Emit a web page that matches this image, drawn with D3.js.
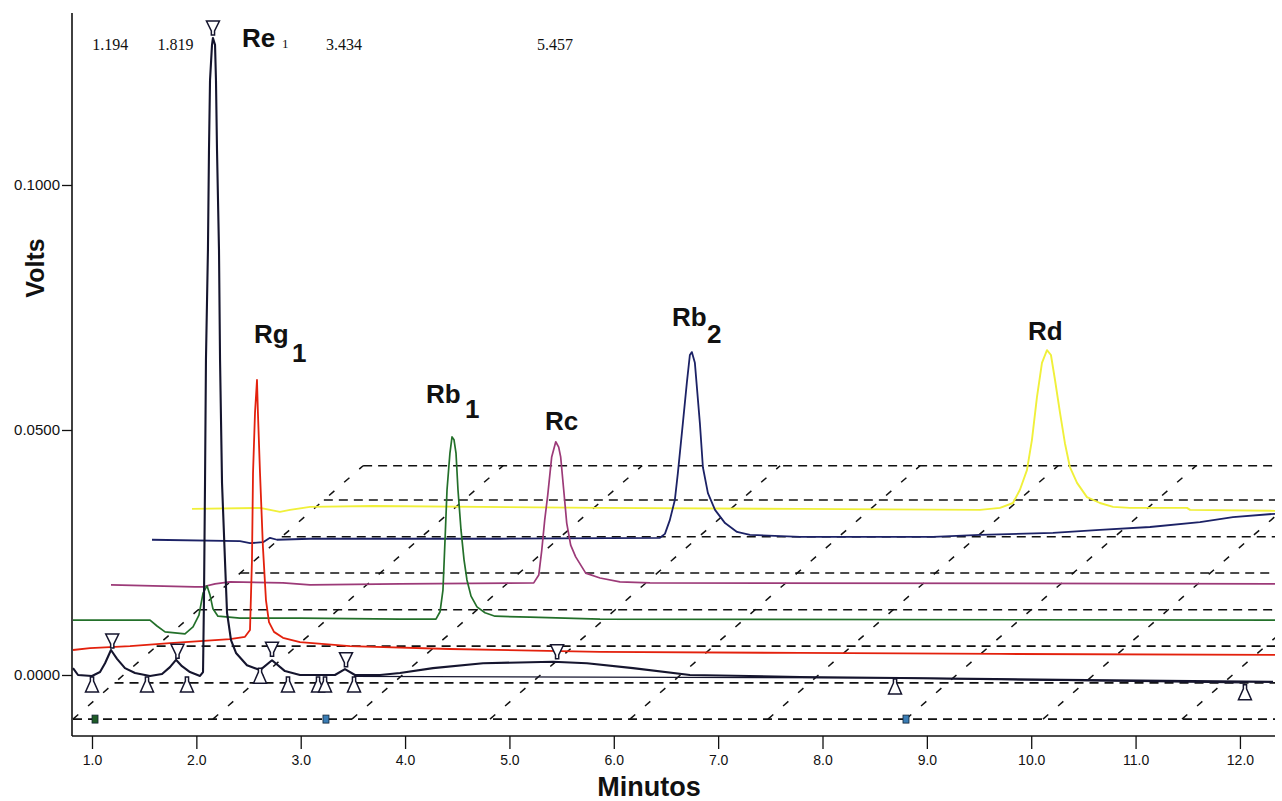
<!DOCTYPE html>
<html>
<head>
<meta charset="utf-8">
<script src="https://cdn.jsdelivr.net/npm/d3@7"></script>
<style>
  body { margin: 0; background: #fff; }
  svg { display: block; }
</style>
</head>
<body>
<svg id="chart" width="1282" height="801"></svg>
<script>
// ---- Axis ticks ----
const xTicks = [1, 2, 3, 4, 5, 6, 7, 8, 9, 10, 11, 12];
const yTicks = [0.0, 0.05, 0.10];

// ---- Chromatogram traces: [minutes, volts] ----
const traceRe1 = [
  [0.818,0.0014],[0.866,0.0000],[1.000,-0.0002],[1.077,0.0006],[1.125,0.0024],[1.182,0.0051],
  [1.240,0.0033],[1.316,0.0014],[1.412,0.0004],[1.556,-0.0002],[1.671,0.0002],[1.747,0.0016],
  [1.805,0.0031],[1.862,0.0018],[1.939,0.0006],[2.035,-0.0002],[2.064,0.0006],[2.073,0.0153],
  [2.083,0.0392],[2.092,0.0643],[2.111,0.0867],[2.121,0.1071],[2.131,0.1214],[2.150,0.1286],
  [2.159,0.1300],[2.179,0.1286],[2.188,0.1214],[2.198,0.1071],[2.217,0.0867],[2.227,0.0643],
  [2.246,0.0392],[2.274,0.0235],[2.294,0.0127],[2.332,0.0071],[2.380,0.0045],[2.485,0.0020],
  [2.610,0.0010],[2.725,0.0030],[2.849,0.0008],[2.993,0.0000],[3.328,0.0000],[3.424,0.0012],
  [3.520,0.0000],[3.760,0.0000],[3.951,0.0004],[4.268,0.0014],[4.747,0.0024],[5.417,0.0027],
  [5.743,0.0024],[6.184,0.0014],[6.730,0.0000],[7.784,-0.0004],[8.742,-0.0006],[10.276,-0.0010],
  [12.317,-0.0014]
];
const traceRg1 = [
  [0.818,0.0051],[0.981,0.0055],[1.364,0.0059],[1.747,0.0065],[2.035,0.0069],[2.322,0.0073],
  [2.466,0.0078],[2.514,0.0092],[2.533,0.0235],[2.543,0.0412],[2.562,0.0535],[2.581,0.0602],
  [2.590,0.0535],[2.610,0.0412],[2.638,0.0261],[2.667,0.0153],[2.696,0.0108],[2.744,0.0088],
  [2.830,0.0076],[2.993,0.0067],[3.472,0.0059],[4.430,0.0053],[5.868,0.0047],[7.784,0.0045],
  [9.700,0.0043],[12.336,0.0041]
];
const traceRb1 = [
  [0.818,0.0112],[1.556,0.0112],[1.623,0.0100],[1.700,0.0088],[1.891,0.0084],[1.968,0.0098],
  [2.025,0.0122],[2.064,0.0167],[2.102,0.0182],[2.131,0.0163],[2.159,0.0135],[2.207,0.0120],
  [2.418,0.0116],[2.993,0.0116],[3.951,0.0114],[4.296,0.0114],[4.335,0.0129],[4.363,0.0173],
  [4.383,0.0276],[4.402,0.0378],[4.430,0.0453],[4.450,0.0486],[4.469,0.0480],[4.488,0.0453],
  [4.507,0.0378],[4.536,0.0296],[4.565,0.0235],[4.593,0.0194],[4.632,0.0161],[4.689,0.0139],
  [4.766,0.0127],[4.862,0.0120],[5.197,0.0118],[5.868,0.0114],[12.336,0.0112]
];
const traceRc = [
  [1.182,0.0184],[1.987,0.0180],[2.064,0.0180],[2.179,0.0186],[2.322,0.0190],[2.830,0.0188],
  [3.089,0.0184],[3.951,0.0186],[5.233,0.0188],[5.281,0.0204],[5.310,0.0255],[5.338,0.0316],
  [5.367,0.0367],[5.405,0.0445],[5.444,0.0476],[5.472,0.0465],[5.491,0.0445],[5.520,0.0378],
  [5.549,0.0310],[5.587,0.0265],[5.635,0.0241],[5.731,0.0208],[5.868,0.0198],[6.059,0.0190],
  [6.347,0.0188],[12.336,0.0186]
];
const traceRb2 = [
  [1.575,0.0276],[2.418,0.0273],[2.514,0.0269],[2.639,0.0271],[2.706,0.0280],[2.773,0.0276],
  [3.089,0.0278],[4.908,0.0278],[6.442,0.0280],[6.490,0.0288],[6.537,0.0316],[6.585,0.0357],
  [6.614,0.0412],[6.662,0.0514],[6.700,0.0596],[6.729,0.0653],[6.748,0.0659],[6.777,0.0637],
  [6.825,0.0514],[6.854,0.0424],[6.902,0.0371],[6.970,0.0337],[7.066,0.0310],[7.181,0.0292],
  [7.305,0.0286],[7.784,0.0282],[9.059,0.0282],[9.509,0.0286],[10.208,0.0290],[10.659,0.0296],
  [11.138,0.0302],[11.617,0.0312],[11.933,0.0322],[12.336,0.0329]
];
const traceRd = [
  [1.958,0.0339],[2.610,0.0341],[2.801,0.0333],[2.897,0.0337],[3.089,0.0343],[3.693,0.0345],
  [5.868,0.0341],[7.784,0.0339],[9.509,0.0337],[9.701,0.0341],[9.825,0.0351],[9.892,0.0378],
  [9.959,0.0418],[10.007,0.0480],[10.055,0.0567],[10.103,0.0637],[10.151,0.0663],[10.189,0.0653],
  [10.228,0.0602],[10.276,0.0535],[10.323,0.0473],[10.371,0.0424],[10.439,0.0392],[10.534,0.0363],
  [10.659,0.0351],[10.784,0.0343],[10.946,0.0341],[11.493,0.0341],[11.522,0.0337],[12.336,0.0335]
];

// Peak apex markers on the front run, with their retention times
const apexTimes  = [1.194, 1.819, 2.159, 2.725, 3.434, 5.457];
const apexVolts  = [0.0053, 0.0032, 0.1304, 0.0036, 0.0015, 0.0031];
const apexShown  = [true, true, false, false, true, true];

// Peak start / end markers on the front run
const edgeTimes = [1.000, 1.527, 1.910, 2.610, 2.878, 3.166, 3.233, 3.511, 8.695, 12.048];
const edgeVolts = [-0.0002, -0.0002, -0.0002, 0.0016, -0.0002, -0.0002, -0.0002, -0.0002, -0.0006, -0.0018];

// Integration baseline drawn under the broad late hump
const baseTimes = [3.511, 8.695, 12.048];
const baseVolts = [-0.0003, -0.0006, -0.0016];

// Stacked floor: plane levels (volts), grid feet on the front plane (minutes)
const floorLevels = [-0.0090, -0.0016, 0.0059, 0.0133, 0.0208, 0.0282, 0.0357, 0.0427];
const floorFeet   = [0.818, 2.159, 3.491, 4.814, 6.155, 7.478, 8.800, 10.113, 11.445];
const floorDepth  = 2.78;   // minutes the grid shifts from front to back plane

// Event marks on the front plane
const eventTimes  = [1.029, 3.242, 8.800];
const eventColors = ["#1e5c26", "#3a7db5", "#3a7db5"];

// ---- Layout ----
const svg = d3.select("#chart");
const plotL = 72, plotR = 1275, plotT = 13, plotB = 736;

const x = d3.scaleLinear().domain([0.8084, 12.336]).range([plotL, plotR]);
const y = d3.scaleLinear().domain([-0.01245, 0.1351]).range([plotB, plotT]);

svg.append("defs").append("clipPath").attr("id", "plot")
  .append("rect").attr("x", plotL).attr("y", 0).attr("width", plotR - plotL).attr("height", plotB);

const g = svg.append("g").attr("clip-path", "url(#plot)");

// ---- Floor grid ----
const v0 = floorLevels[0], vTop = floorLevels[floorLevels.length - 1];
const shear = floorDepth / (vTop - v0);

g.selectAll("line.level").data(floorLevels).join("line")
  .attr("class", "level")
  .attr("x1", v => x(floorFeet[0] + shear * (v - v0)))
  .attr("x2", plotR)
  .attr("y1", v => y(v)).attr("y2", v => y(v))
  .attr("stroke", "#111").attr("stroke-width", 1.6)
  .attr("stroke-dasharray", "9,6");

g.selectAll("line.diag").data(floorFeet).join("line")
  .attr("class", "diag")
  .attr("x1", t => x(t)).attr("y1", y(v0))
  .attr("x2", t => x(t + floorDepth)).attr("y2", y(vTop))
  .attr("stroke", "#111").attr("stroke-width", 1.5)
  .attr("stroke-dasharray", "7,13");

g.selectAll("rect.event").data(eventTimes).join("rect")
  .attr("class", "event")
  .attr("x", t => x(t) - 3).attr("y", y(v0) - 4)
  .attr("width", 6).attr("height", 8)
  .attr("fill", (t, i) => eventColors[i]).attr("stroke", "#123").attr("stroke-width", 0.8);

// ---- Traces (back to front) ----
const line = d3.line().x(d => x(d[0])).y(d => y(d[1]));
const traces = [
  { data: traceRd,  color: "#f0f03a", w: 1.9 },
  { data: traceRb2, color: "#1c2266", w: 1.8 },
  { data: traceRc,  color: "#9c3a78", w: 1.7 },
  { data: traceRb1, color: "#23702a", w: 1.7 },
  { data: traceRg1, color: "#e3210d", w: 1.8 },
];
g.selectAll("path.trace").data(traces).join("path")
  .attr("class", "trace")
  .attr("d", d => line(d.data))
  .attr("fill", "none").attr("stroke", d => d.color).attr("stroke-width", d => d.w)
  .attr("stroke-linejoin", "round");

g.append("path").attr("d", line(baseTimes.map((t, i) => [t, baseVolts[i]])))
  .attr("fill", "none").attr("stroke", "#15152e").attr("stroke-width", 1.3);

g.append("path").attr("d", line(traceRe1))
  .attr("fill", "none").attr("stroke", "#15152e").attr("stroke-width", 2.1)
  .attr("stroke-linejoin", "round");

// ---- Peak markers ----
const downMark = "M-6.5,-14 L6.5,-14 L1.6,-4 L1.6,0 L-1.6,0 L-1.6,-4 Z";
const upMark   = "M-1.6,0 L1.6,0 L1.6,4 L6.5,15 L-6.5,15 L-1.6,4 Z";

svg.selectAll("path.apex").data(apexTimes).join("path")
  .attr("class", "apex")
  .attr("transform", (t, i) => `translate(${x(t)},${y(apexVolts[i]) - 1})`)
  .attr("d", downMark)
  .attr("fill", "#fff").attr("stroke", "#15152e").attr("stroke-width", 1.5);

svg.selectAll("path.edge").data(edgeTimes).join("path")
  .attr("class", "edge")
  .attr("transform", (t, i) => `translate(${x(t)},${y(edgeVolts[i]) + 1})`)
  .attr("d", upMark)
  .attr("fill", "#fff").attr("stroke", "#15152e").attr("stroke-width", 1.5);

// retention time labels along the top
svg.selectAll("text.rt").data(apexTimes.filter((t, i) => apexShown[i])).join("text")
  .attr("class", "rt")
  .attr("x", t => x(t) - 2).attr("y", 50)
  .attr("text-anchor", "middle")
  .attr("font-family", "'Liberation Serif', 'Times New Roman', serif")
  .attr("font-size", 16)
  .attr("fill", "#111")
  .text(d3.format(".3f"));

// ---- Compound labels ----
const labelFont = "'Liberation Sans', Arial, sans-serif";
const compounds = [
  { name: "Re", x: 242,  y: 47,  sub: "1", sx: 282, sy: 48, serifSub: true },
  { name: "Rg", x: 254,  y: 343, sub: "1", sx: 292, sy: 362 },
  { name: "Rb", x: 426,  y: 403, sub: "1", sx: 465, sy: 418 },
  { name: "Rc", x: 545,  y: 430, sub: "" },
  { name: "Rb", x: 672,  y: 326, sub: "2", sx: 707, sy: 343 },
  { name: "Rd", x: 1028, y: 340, sub: "" },
];
compounds.forEach(c => {
  svg.append("text").attr("x", c.x).attr("y", c.y)
    .attr("font-family", labelFont).attr("font-weight", "bold").attr("font-size", 26)
    .attr("fill", "#111").text(c.name);
  if (c.sub) {
    svg.append("text").attr("x", c.sx).attr("y", c.sy)
      .attr("font-family", c.serifSub ? "'Liberation Serif', serif" : labelFont)
      .attr("font-weight", c.serifSub ? "normal" : "bold")
      .attr("font-size", c.serifSub ? 13 : 26)
      .attr("fill", "#111").text(c.sub);
  }
});

// ---- Axes ----
const yAxis = svg.append("g").attr("transform", `translate(${plotL},0)`)
  .call(d3.axisLeft(y).tickValues(yTicks).tickFormat(d3.format(".4f")).tickSize(10).tickPadding(2));
yAxis.select(".domain").attr("d", `M0,${plotT}V${plotB}`).attr("stroke", "#111").attr("stroke-width", 1.6);
yAxis.selectAll(".tick line").attr("stroke", "#111").attr("stroke-width", 1.3);
yAxis.selectAll(".tick text").attr("font-family", "'Liberation Sans', Arial, sans-serif")
  .attr("font-size", 15).attr("fill", "#111");

const xAxis = svg.append("g").attr("transform", `translate(0,${plotB})`)
  .call(d3.axisBottom(x).tickValues(xTicks).tickFormat(d3.format(".1f")).tickSize(13).tickPadding(6));
xAxis.select(".domain").attr("d", `M${plotL},0H${plotR}`).attr("stroke", "#111").attr("stroke-width", 1.6);
xAxis.selectAll(".tick line").attr("stroke", "#111").attr("stroke-width", 1.3);
xAxis.selectAll(".tick text").attr("font-family", "'Liberation Sans', Arial, sans-serif")
  .attr("font-size", 14).attr("fill", "#111");

svg.append("text")
  .attr("transform", "translate(44,268) rotate(-90)")
  .attr("text-anchor", "middle")
  .attr("font-family", labelFont).attr("font-weight", "bold").attr("font-size", 25)
  .attr("fill", "#111").text("Volts");

svg.append("text")
  .attr("x", 649).attr("y", 796)
  .attr("text-anchor", "middle")
  .attr("font-family", labelFont).attr("font-weight", "bold").attr("font-size", 27)
  .attr("fill", "#111").text("Minutos");
</script>
</body>
</html>
